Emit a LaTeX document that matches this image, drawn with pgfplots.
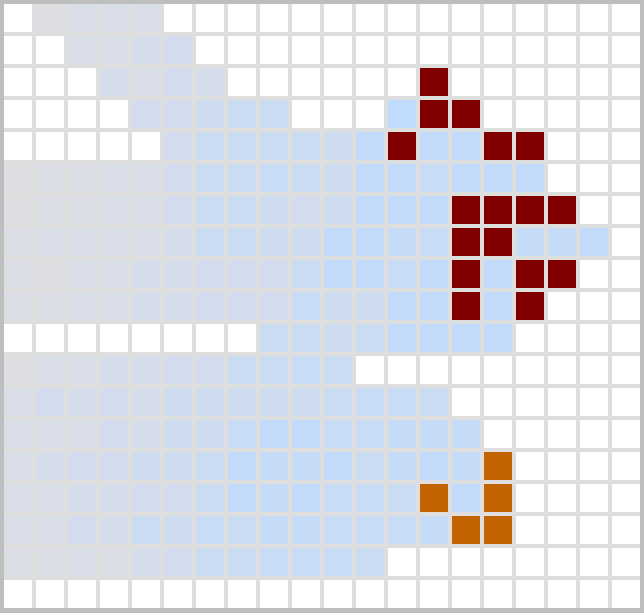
\documentclass[border=0pt]{standalone}
\usepackage{pgfplots}
\pgfplotsset{compat=1.18}
\definecolor{gapgrey}{RGB}{222,222,222}
\definecolor{bordergrey}{RGB}{190,190,190}
\definecolor{cellred}{RGB}{128,0,0}
\definecolor{cellorange}{RGB}{194,98,0}
\begin{document}
\begin{tikzpicture}
\begin{axis}[
  width=322pt, height=306pt, scale only axis,
  xmin=-0.5625, xmax=19.5625, ymin=-0.5625, ymax=18.5625,
  y dir=reverse,
  xtick={0.5,1.5,...,18.5}, ytick={0.5,1.5,...,17.5},
  xticklabels={}, yticklabels={},
  tick style={draw=none}, major tick length=0pt,
  grid=major, major grid style={line width=2pt, color=gapgrey},
  axis line style={line width=4pt, color=bordergrey},
  axis background/.style={fill=white},
  colormap={gb}{rgb255(0)=(222,221,226) rgb255(10)=(191,219,253)},
  point meta min=0, point meta max=10,
  clip=false,
]
\addplot[scatter, only marks, mark=square*, mark size=6.8pt,
  scatter src=explicit,
  scatter/use mapped color={draw=mapped color, fill=mapped color},
  mark options={line width=0.4pt}]
table[meta=v] {
c r v
1 0 0
2 0 2
3 0 2
4 0 2
2 1 2
3 1 2
4 1 3
5 1 4
3 2 3
4 2 2
5 2 4
6 2 3
4 3 4
5 3 4
6 3 5
7 3 6
8 3 6
12 3 10
5 4 4
6 4 6
7 4 6
8 4 6
9 4 6
10 4 5
11 4 9
13 4 9
14 4 9
0 5 0
1 5 1
2 5 1
3 5 2
4 5 2
5 5 4
6 5 6
7 5 6
8 5 7
9 5 6
10 5 5
11 5 9
12 5 9
13 5 7
14 5 9
15 5 9
16 5 9
0 6 0
1 6 1
2 6 1
3 6 2
4 6 2
5 6 4
6 6 6
7 6 6
8 6 5
9 6 4
10 6 5
11 6 9
12 6 9
13 6 9
0 7 1
1 7 2
2 7 2
3 7 2
4 7 2
5 7 3
6 7 6
7 7 6
8 7 5
9 7 5
10 7 9
11 7 9
12 7 8
13 7 7
16 7 8
17 7 8
18 7 9
0 8 1
1 8 0
2 8 2
3 8 2
4 8 3
5 8 3
6 8 4
7 8 4
8 8 4
9 8 6
10 8 9
11 8 9
12 8 7
13 8 9
15 8 9
0 9 1
1 9 1
2 9 2
3 9 2
4 9 3
5 9 3
6 9 4
7 9 4
8 9 4
9 9 7
10 9 5
11 9 5
12 9 9
13 9 9
15 9 9
8 10 6
9 10 6
10 10 5
11 10 6
12 10 9
13 10 9
14 10 9
15 10 9
0 11 0
1 11 2
2 11 2
3 11 3
4 11 3
5 11 4
6 11 4
7 11 6
8 11 6
9 11 7
10 11 6
0 12 2
1 12 4
2 12 3
3 12 4
4 12 3
5 12 5
6 12 5
7 12 5
8 12 5
9 12 5
10 12 6
11 12 7
12 12 7
13 12 6
0 13 2
1 13 2
2 13 2
3 13 4
4 13 3
5 13 5
6 13 5
7 13 7
8 13 9
9 13 9
10 13 7
11 13 7
12 13 8
13 13 8
14 13 8
0 14 2
1 14 3
2 14 4
3 14 4
4 14 5
5 14 5
6 14 6
7 14 9
8 14 8
9 14 8
10 14 9
11 14 6
12 14 8
13 14 9
14 14 8
0 15 2
1 15 2
2 15 3
3 15 3
4 15 4
5 15 4
6 15 6
7 15 9
8 15 8
9 15 9
10 15 7
11 15 7
12 15 6
14 15 9
0 16 2
1 16 2
2 16 4
3 16 3
4 16 6
5 16 5
6 16 7
7 16 6
8 16 8
9 16 8
10 16 7
11 16 7
12 16 7
13 16 8
0 17 1
1 17 1
2 17 2
3 17 1
4 17 3
5 17 4
6 17 6
7 17 6
8 17 7
9 17 7
10 17 7
11 17 6
};
\addplot[only marks, mark=square*, mark size=6.8pt,
  mark options={fill=cellred, draw=cellred, line width=0.4pt}]
table {
13 2
13 3
14 3
12 4
15 4
16 4
14 6
15 6
16 6
17 6
14 7
15 7
14 8
16 8
17 8
14 9
16 9
};
\addplot[only marks, mark=square*, mark size=6.8pt,
  mark options={fill=cellorange, draw=cellorange, line width=0.4pt}]
table {
15 14
13 15
15 15
14 16
15 16
};
\coordinate (SW) at (rel axis cs:0,0);
\coordinate (NE) at (rel axis cs:1,1);
\end{axis}
\pgfresetboundingbox
\path[use as bounding box] (SW) rectangle (NE);
\end{tikzpicture}
\end{document}
